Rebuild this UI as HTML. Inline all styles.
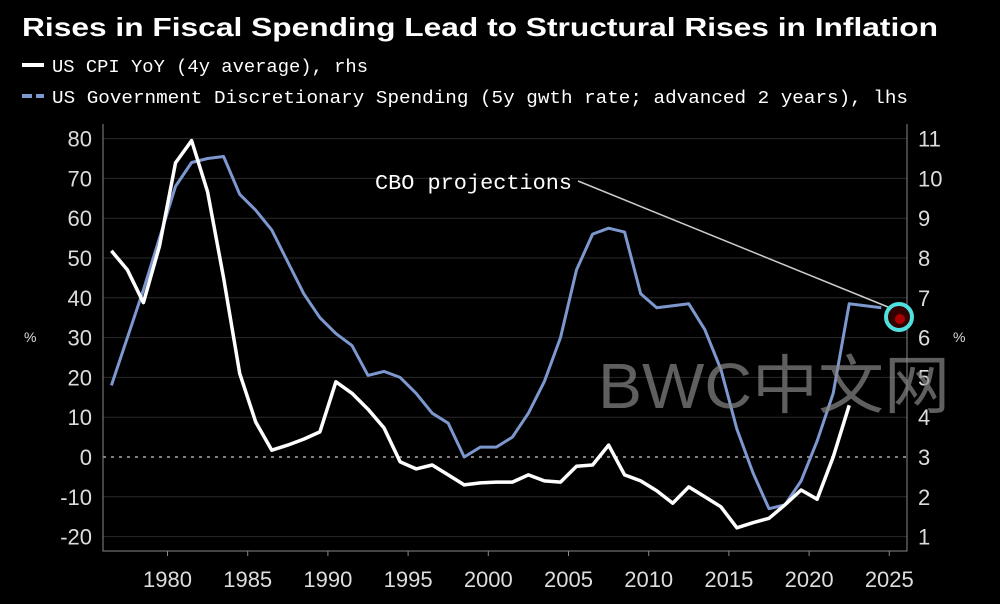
<!DOCTYPE html>
<html><head><meta charset="utf-8"><style>
body{margin:0;background:#000;width:1000px;height:604px;overflow:hidden;font-family:"Liberation Sans",sans-serif}
svg{position:absolute;left:0;top:0}
</style></head><body>
<svg width="1000" height="604">
<text x="22" y="36" fill="#fff" font-size="26" font-weight="bold" textLength="916" lengthAdjust="spacingAndGlyphs">Rises in Fiscal Spending Lead to Structural Rises in Inflation</text>
<line x1="22" y1="65" x2="44" y2="65" stroke="#fff" stroke-width="4"/>
<text x="52" y="72" fill="#fff" font-size="18" font-family="Liberation Mono,monospace" textLength="316" lengthAdjust="spacingAndGlyphs">US CPI YoY (4y average), rhs</text>
<line x1="22" y1="96" x2="44" y2="96" stroke="#7d97cf" stroke-width="4" stroke-dasharray="10,4"/>
<text x="52" y="103" fill="#fff" font-size="18" font-family="Liberation Mono,monospace" textLength="856" lengthAdjust="spacingAndGlyphs">US Government Discretionary Spending (5y gwth rate; advanced 2 years), lhs</text>
<g id="plot"></g>
<text x="598" y="408" fill="#888" fill-opacity="0.7" font-size="64" textLength="352" lengthAdjust="spacingAndGlyphs" font-family="Liberation Sans,'Noto Sans CJK SC',sans-serif">BWC中文网</text>
</svg>
<script>
const years=[1976.5,1977.5,1978.5,1979.5,1980.5,1981.5,1982.5,1983.5,1984.5,1985.5,1986.5,1987.5,1988.5,1989.5,1990.5,1991.5,1992.5,1993.5,1994.5,1995.5,1996.5,1997.5,1998.5,1999.5,2000.5,2001.5,2002.5,2003.5,2004.5,2005.5,2006.5,2007.5,2008.5,2009.5,2010.5,2011.5,2012.5,2013.5,2014.5,2015.5,2016.5,2017.5,2018.5,2019.5,2020.5,2021.5,2022.5,2023.5,2024.5];
const spending=[18,30,42,55,68,74,75,75.5,66,62,57,49,41,35,31,28,20.5,21.5,20,16,11,8.5,0,2.5,2.5,5,11,19,30,47,56,57.5,56.5,41,37.5,38,38.5,32,22,7,-4,-13,-12,-6,4,16,38.5,38,37.5];
const cpiYears=[1976.5,1977.5,1978.5,1979.5,1980.5,1981.5,1982.5,1983.5,1984.5,1985.5,1986.5,1987.5,1988.5,1989.5,1990.5,1991.5,1992.5,1993.5,1994.5,1995.5,1996.5,1997.5,1998.5,1999.5,2000.5,2001.5,2002.5,2003.5,2004.5,2005.5,2006.5,2007.5,2008.5,2009.5,2010.5,2011.5,2012.5,2013.5,2014.5,2015.5,2016.5,2017.5,2018.5,2019.5,2020.5,2021.5,2022.5];
const cpi=[8.18,7.7,6.88,8.3,10.39,10.95,9.66,7.5,5.1,3.88,3.17,3.3,3.45,3.63,4.89,4.6,4.2,3.73,2.88,2.7,2.8,2.55,2.3,2.35,2.37,2.37,2.55,2.4,2.37,2.77,2.8,3.3,2.55,2.4,2.15,1.84,2.25,2.0,1.75,1.22,1.35,1.46,1.8,2.17,1.94,3.0,4.3];
const leftTicks=[80,70,60,50,40,30,20,10,0,-10,-20];
const rightTicks=[11,10,9,8,7,6,5,4,3,2,1];
const xTicks=[1980,1985,1990,1995,2000,2005,2010,2015,2020,2025];
const X=y=>167.5+(y-1980)*16.04, YL=v=>457-v*3.98, YR=r=>YL((r-3)*10);
const g=document.getElementById('plot'), NS='http://www.w3.org/2000/svg';
function mk(t,a,txt){const e=document.createElementNS(NS,t);for(const k in a)e.setAttribute(k,a[k]);if(txt!==undefined)e.textContent=txt;g.appendChild(e);return e;}
leftTicks.forEach(v=>{
 const l=mk('line',{x1:103,x2:907,y1:YL(v),y2:YL(v),stroke:v===0?'#aaa':'#2a2a2a','stroke-width':v===0?1.5:1,'stroke-dasharray':v===0?'3,5':''});
 
 
 const t=mk('text',{x:92,y:YL(v)+8,fill:'#ddd','font-size':22,'text-anchor':'end'},String(v));
 
 
});
rightTicks.forEach(v=>{
 const t=mk('text',{x:918,y:YR(v)+8,fill:'#ddd','font-size':22},String(v));
 
 
});
xTicks.forEach(v=>{
 const l=mk('line',{x1:X(v),x2:X(v),y1:551,y2:556,stroke:'#888'});
 
 
 const t=mk('text',{x:X(v),y:587,fill:'#ddd','font-size':22,'text-anchor':'middle'},String(v));
 
 
});
let a=mk('path',{d:'M103 124V551H907V124',stroke:'#888',fill:'none'});


let p1=mk('text',{x:24,y:342,fill:'#ddd','font-size':14},'%');


let p2=mk('text',{x:953,y:342,fill:'#ddd','font-size':14},'%');


const sp=mk('path',{d:years.map((y,i)=>(i?'L':'M')+X(y).toFixed(1)+' '+YL(spending[i]).toFixed(1)).join(''),stroke:'#7d97cf',fill:'none','stroke-width':3,'stroke-linejoin':'round'});


const cp=mk('path',{d:cpiYears.map((y,i)=>(i?'L':'M')+X(y).toFixed(1)+' '+YR(cpi[i]).toFixed(1)).join(''),stroke:'#fff',fill:'none','stroke-width':3.5,'stroke-linejoin':'round'});


let an=mk('line',{x1:578,y1:181,x2:888,y2:307,stroke:'#ccc','stroke-width':1.5});


let at=mk('text',{x:375,y:189,fill:'#fff','font-size':21,'font-family':'Liberation Mono,monospace',textLength:197,lengthAdjust:'spacingAndGlyphs'},'CBO projections');


let c=mk('circle',{cx:899,cy:317,r:13,fill:'#300',stroke:'#4fe0e0','stroke-width':4});


let d=mk('circle',{cx:900,cy:319,r:5,fill:'#a00'});


</script>
</body></html>
